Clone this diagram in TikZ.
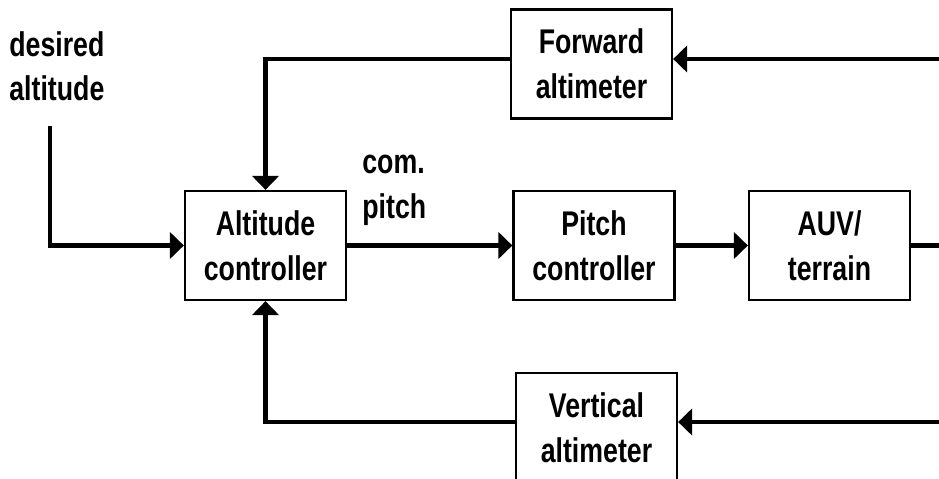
\documentclass[tikz,border=0pt]{standalone}
\usepackage{fontspec}
\setmainfont{Liberation Sans}[FakeStretch=0.78]
\usetikzlibrary{arrows.meta}

\begin{document}
\begin{tikzpicture}[x=0.02cm, y=-0.02cm,
  block/.style={draw, line width=1.3pt, minimum width=3.22cm, minimum height=2.18cm,
    align=center, inner sep=0pt, font=\fontsize{19.5}{25.5}\selectfont\bfseries},
  tag/.style={align=left, inner sep=0pt, font=\fontsize{19.5}{25.5}\selectfont\bfseries},
  wire/.style={line width=2.8pt},
  flow/.style={wire, -{Triangle[length=8pt,width=15pt]}}]
% Cornice della figura
\clip (0,0) rectangle (939,479);
% Blocchi
\node[block] (alt) at (265.5,245.5) {Altitude\\controller};
\node[block] (pitch) at (594,245.5) {Pitch\\controller};
\node[block] (auv) at (829.5,245.5) {AUV/\\terrain};
\node[block] (fwd) at (591.5,64) {Forward\\altimeter};
\node[block] (vert) at (596.5,427.5) {Vertical\\altimeter};
% Etichette libere
\node[tag, anchor=north west] (desired) at (9,31) {desired\\altitude};
\node[tag, anchor=north west] (com) at (362,155) {com.\\pitch};
% Estremi dei collegamenti
\coordinate (setpoint) at (50,126);
\coordinate (fwdin) at (939,59);
\coordinate (out) at (939,245.5);
\coordinate (vertin) at (939,422);
% Catena diretta
\draw[flow] (setpoint) |- (alt.west);
\draw[flow] (alt.east) -- (pitch.west);
\draw[flow] (pitch.east) -- (auv.west);
\draw[wire] (auv.east) -- (out);
% Retroazioni
\draw[flow] (fwdin) -- (fwdin -| fwd.east);
\draw[flow] (fwdin -| fwd.west) -| (alt.north);
\draw[flow] (vertin) -- (vertin -| vert.east);
\draw[flow] (vertin -| vert.west) -| (alt.south);
\end{tikzpicture}
\end{document}
